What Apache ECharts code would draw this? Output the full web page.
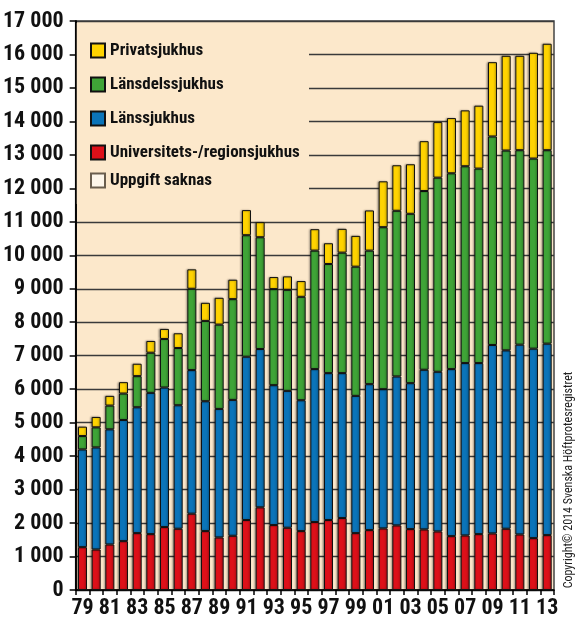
<!DOCTYPE html>
<html>
<head>
<meta charset="utf-8">
<script src="https://cdn.jsdelivr.net/npm/echarts@6/dist/echarts.min.js"></script>
<style>
  html, body { margin: 0; padding: 0; background: #fff; }
  #chart { width: 581px; height: 622px; }
</style>
</head>
<body>
<div id="chart"></div>
<script>
// år (1979-2013)
const years = ['79','80','81','82','83','84','85','86','87','88','89','90','91','92','93','94','95','96','97','98','99','00','01','02','03','04','05','06','07','08','09','10','11','12','13'];

// antal operationer per sjukhustyp
const universitet = [1280,1210,1360,1460,1700,1670,1880,1830,2280,1760,1570,1620,2090,2470,1940,1860,1760,2030,2090,2150,1700,1790,1840,1930,1820,1810,1750,1610,1630,1670,1690,1830,1660,1550,1640];
const lans = [2920,3050,3440,3620,3760,4220,4170,3690,4290,3880,3840,4060,4880,4730,4180,4090,3910,4570,4390,4330,4100,4360,4160,4450,4360,4770,4770,4990,5150,5110,5630,5330,5670,5660,5720];
const lansdels = [400,600,710,790,930,1200,1450,1710,2430,2400,2520,3010,3630,3340,2870,3020,3090,3540,3260,3600,3860,3990,4840,4950,5060,5340,5800,5850,5880,5810,6230,5970,5810,5680,5780];
const privat = [280,310,290,340,370,350,300,440,580,540,800,580,750,450,360,400,470,640,620,710,920,1200,1370,1360,1480,1490,1660,1650,1670,1880,2220,2830,2820,3160,3180];
const saknas = [];

const bg = '#FCE8CB';
const font = '"Roboto Condensed", "Open Sans Condensed", "Liberation Sans Narrow", "Noto Sans", sans-serif';

function fmt(v) {
  let s = String(v);
  if (s.length > 3) s = s.slice(0, s.length - 3) + ' ' + s.slice(-3);
  return s;
}

function bar(name, data, color, border) {
  return {
    name: name,
    type: 'bar',
    stack: 'total',
    barWidth: 9,
    data: data,
    itemStyle: {
      color: color,
      borderColor: border || '#111',
      borderWidth: 1,
      shadowColor: 'rgba(0,0,0,0.35)',
      shadowBlur: 2,
      shadowOffsetX: -1,
      shadowOffsetY: 0
    }
  };
}

let myChart = echarts.init(document.getElementById('chart'));
myChart.setOption({
  animation: false,
  textStyle: { fontFamily: font, fontStyle: 'condensed' },
  grid: {
    left: 73, right: 27, top: 21, bottom: 32,
    show: true,
    backgroundColor: bg,
    borderColor: '#444',
    borderWidth: 1.5
  },
  legend: [
    {
      data: ['Privatsjukhus', 'Länsdelssjukhus', 'Länssjukhus', 'Universitets-/regionsjukhus'],
      orient: 'vertical',
      left: 90, top: 42,
      padding: 0,
      icon: 'rect',
      itemWidth: 14, itemHeight: 14, itemGap: 17,
      textStyle: { fontSize: 17, fontWeight: 'bold', fontStyle: 'condensed', color: '#111', fontFamily: font }
    },
    {
      data: ['Uppgift saknas'],
      orient: 'vertical',
      left: 90, top: 172,
      padding: 0,
      icon: 'rect',
      itemWidth: 14, itemHeight: 14,
      textStyle: { fontSize: 17, fontWeight: 'bold', fontStyle: 'condensed', color: '#111', fontFamily: font }
    }
  ],
  xAxis: {
    type: 'category',
    data: years,
    boundaryGap: true,
    axisLine: { lineStyle: { color: '#000', width: 1.5 } },
    axisTick: { show: true, interval: 0, length: 5, lineStyle: { color: '#000', width: 1.5 } },
    axisLabel: { interval: 1, color: '#111', fontSize: 22, fontWeight: 'bold', fontStyle: 'extra-condensed', fontFamily: font, margin: 7 },
    splitLine: { show: false }
  },
  yAxis: [
    {
      type: 'value',
      min: 0, max: 17000, interval: 1000,
      axisLine: { show: true, lineStyle: { color: '#000', width: 1.5 } },
      axisTick: { show: true, length: 6, lineStyle: { color: '#000', width: 1.5 } },
      axisLabel: { color: '#111', fontSize: 22, fontWeight: 'bold', fontStyle: 'extra-condensed', fontFamily: font, margin: 12, formatter: fmt },
      splitLine: { show: true, lineStyle: { color: '#3a3a3a', width: 1.3 } }
    },
    {
      // bara axellinjen, ovanpå legendens bakgrund
      type: 'value',
      position: 'left',
      min: 0, max: 17000, interval: 1000,
      z: 5,
      axisLine: { show: true, lineStyle: { color: '#000', width: 1.5 } },
      axisTick: { show: false },
      axisLabel: { show: false },
      splitLine: { show: false }
    }
  ],
  graphic: [
    {
      type: 'rect',
      z: 1,
      shape: { x: 76, y: 23, width: 233, height: 181 },
      style: { fill: bg }
    },
    {
      type: 'text',
      x: 569, y: 480,
      rotation: Math.PI / 2,
      style: {
        text: 'Copyright© 2014 Svenska Höftprotesregistret',
        fontSize: 12,
        fontFamily: font,
        fontStyle: 'condensed',
        fill: '#222',
        textAlign: 'center',
        textVerticalAlign: 'middle'
      }
    }
  ],
  series: [
    bar('Universitets-/regionsjukhus', universitet, '#DD1019'),
    bar('Länssjukhus', lans, '#0B74B9'),
    bar('Länsdelssjukhus', lansdels, '#3FA437'),
    bar('Privatsjukhus', privat, '#FFD300'),
    bar('Uppgift saknas', saknas, '#FDF6EA', '#6a5e4e')
  ]
});
</script>
</body>
</html>
